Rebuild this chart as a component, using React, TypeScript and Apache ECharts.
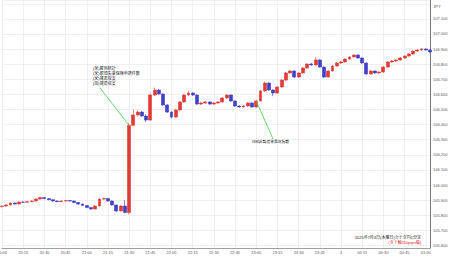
import React, { useEffect, useRef } from "react";
import * as echarts from "echarts";

// 3-minute candles, CAD/JPY, 2025-07-03 20:00 -> 2025-07-04 01:03 (JST)
const opens = [
  105.857, 105.861, 105.868, 105.881, 105.874, 105.887, 105.886, 105.890, 105.894, 105.907,
  105.917, 105.910, 105.903, 105.894, 105.890, 105.894, 105.897, 105.894, 105.884, 105.874,
  105.864, 105.851, 105.841, 105.861, 105.907, 105.910, 105.894, 105.868, 105.828, 105.861,
  105.818, 106.395, 106.464, 106.483, 106.457, 106.430, 106.596, 106.629, 106.603, 106.530,
  106.483, 106.450, 106.497, 106.550, 106.596, 106.609, 106.596, 106.536, 106.543, 106.550,
  106.536, 106.543, 106.550, 106.576, 106.596, 106.556, 106.523, 106.517, 106.523, 106.543,
  106.517, 106.556, 106.623, 106.675, 106.629, 106.609, 106.649, 106.695, 106.742, 106.755,
  106.715, 106.742, 106.775, 106.801, 106.795, 106.828, 106.781, 106.715, 106.755, 106.788,
  106.808, 106.815, 106.834, 106.848, 106.861, 106.841, 106.808, 106.735, 106.755, 106.742,
  106.748, 106.781, 106.815, 106.821, 106.828, 106.841, 106.854, 106.868, 106.887, 106.894,
  106.901, 106.894,
];
const closes = [
  105.861, 105.868, 105.881, 105.874, 105.887, 105.886, 105.890, 105.894, 105.907, 105.917,
  105.910, 105.903, 105.894, 105.890, 105.894, 105.897, 105.894, 105.884, 105.874, 105.864,
  105.851, 105.841, 105.861, 105.907, 105.910, 105.894, 105.868, 105.828, 105.861, 105.818,
  106.395, 106.464, 106.483, 106.457, 106.430, 106.596, 106.629, 106.603, 106.530, 106.483,
  106.450, 106.497, 106.550, 106.596, 106.609, 106.596, 106.536, 106.543, 106.550, 106.536,
  106.543, 106.550, 106.576, 106.596, 106.556, 106.523, 106.517, 106.523, 106.543, 106.517,
  106.556, 106.623, 106.675, 106.629, 106.609, 106.649, 106.695, 106.742, 106.755, 106.715,
  106.742, 106.775, 106.801, 106.795, 106.828, 106.781, 106.715, 106.755, 106.788, 106.808,
  106.815, 106.834, 106.848, 106.861, 106.841, 106.808, 106.735, 106.755, 106.742, 106.748,
  106.781, 106.815, 106.821, 106.828, 106.841, 106.854, 106.868, 106.887, 106.894, 106.901,
  106.894, 106.881,
];
const lows = [
  105.852, 105.858, 105.865, 105.870, 105.872, 105.882, 105.883, 105.887, 105.892, 105.904,
  105.906, 105.899, 105.890, 105.886, 105.887, 105.891, 105.890, 105.880, 105.870, 105.860,
  105.847, 105.836, 105.838, 105.858, 105.903, 105.890, 105.864, 105.822, 105.825, 105.812,
  105.805, 106.430, 106.455, 106.450, 106.417, 106.425, 106.590, 106.598, 106.525, 106.478,
  106.440, 106.446, 106.492, 106.546, 106.590, 106.590, 106.530, 106.530, 106.538, 106.531,
  106.532, 106.539, 106.546, 106.572, 106.551, 106.518, 106.512, 106.513, 106.519, 106.512,
  106.513, 106.552, 106.618, 106.624, 106.588, 106.604, 106.645, 106.690, 106.737, 106.708,
  106.711, 106.738, 106.770, 106.790, 106.791, 106.776, 106.709, 106.711, 106.751, 106.784,
  106.803, 106.811, 106.830, 106.844, 106.836, 106.803, 106.730, 106.731, 106.737, 106.736,
  106.744, 106.777, 106.810, 106.816, 106.823, 106.836, 106.850, 106.863, 106.882, 106.889,
  106.889, 106.876,
];
const highs = [
  105.866, 105.873, 105.885, 105.886, 105.891, 105.892, 105.895, 105.899, 105.911, 105.922,
  105.921, 105.913, 105.906, 105.898, 105.898, 105.901, 105.900, 105.897, 105.887, 105.877,
  105.867, 105.855, 105.866, 105.912, 105.915, 105.913, 105.897, 105.871, 105.866, 105.902,
  106.410, 106.500, 106.495, 106.490, 106.468, 106.605, 106.645, 106.635, 106.608, 106.535,
  106.488, 106.502, 106.555, 106.601, 106.624, 106.614, 106.600, 106.550, 106.556, 106.555,
  106.549, 106.556, 106.581, 106.603, 106.600, 106.560, 106.528, 106.529, 106.549, 106.547,
  106.561, 106.630, 106.684, 106.680, 106.633, 106.654, 106.700, 106.748, 106.763, 106.759,
  106.747, 106.780, 106.806, 106.808, 106.848, 106.833, 106.785, 106.760, 106.793, 106.813,
  106.821, 106.839, 106.853, 106.866, 106.865, 106.845, 106.812, 106.760, 106.759, 106.753,
  106.786, 106.820, 106.827, 106.833, 106.846, 106.859, 106.873, 106.892, 106.900, 106.906,
  106.906, 106.898,
];

const startHour = 20;
const stepMinutes = 3;
const times = opens.map((_, i) => {
  const m = (startHour * 60 + i * stepMinutes) % 1440;
  const hh = String(Math.floor(m / 60)).padStart(2, "0");
  const mm = String(m % 60).padStart(2, "0");
  return `${hh}:${mm}`;
});

const yMin = 105.583;
const yMax = 107.225;

const eventNotes = ["(米)雇用統計", "(米)新規失業保険申請件数", "(米)貿易収支", "(加)貿易収支"];
const eventTime = "21:30";
const eventPrice = 106.395;
const ismNote = "ISM非製造業景況指数";
const ismTime = "23:00";
const ismPrice = 106.556;
const titleNote = "2025年7月3日(木曜日)カナダ円1分足";
const scaleNote = "(タテ軸150pips幅)";
const unitNote = "JPY";

const FONT = "'Liberation Sans', 'Noto Sans CJK JP', sans-serif";

export default function App() {
  const ref = useRef<HTMLDivElement>(null);
  useEffect(() => {
    if (!ref.current) return;
    const chart = echarts.init(ref.current, null, { renderer: "svg" });
    const data = opens.map((o, i) => [o, closes[i], lows[i], highs[i]]);
    chart.setOption({
      animation: false,
      backgroundColor: "#ffffff",
      grid: { left: 2, right: 20, top: 0, bottom: 10, containLabel: false, outerBoundsMode: "none" },
      xAxis: {
        type: "category",
        data: times,
        boundaryGap: false,
        axisLine: { show: true, lineStyle: { color: "#a0a0a0", width: 1 } },
        axisTick: { show: false },
        axisLabel: {
          interval: 4,
          fontSize: 4,
          color: "#555",
          margin: 2,
          fontFamily: FONT,
          formatter: (v: string) => (v === "00:00" ? "4" : v),
        },
        splitLine: { show: true, interval: 4, lineStyle: { color: "#ececec", width: 0.8 } },
      },
      yAxis: {
        type: "value",
        position: "right",
        min: yMin,
        max: yMax,
        splitNumber: 16,
        axisLine: { show: true, lineStyle: { color: "#777", width: 1 } },
        axisTick: { show: false },
        axisLabel: {
          fontSize: 4,
          color: "#555",
          margin: 3,
          fontFamily: FONT,
          showMinLabel: false,
          showMaxLabel: false,
          formatter: (v: number) => (v > 107.15 ? "" : v.toFixed(3)),
        },
        splitLine: { show: true, lineStyle: { color: "#ececec", width: 0.8 } },
      },
      series: [
        {
          type: "candlestick",
          data,
          barWidth: 3.4,
          itemStyle: {
            color: "#e23b36",
            color0: "#4040c8",
            borderColor: "#e23b36",
            borderColor0: "#4040c8",
            borderWidth: 0.6,
          },
        },
      ],
    });

    const p1 = chart.convertToPixel({ gridIndex: 0 }, [eventTime, eventPrice]) as number[];
    const p2 = chart.convertToPixel({ gridIndex: 0 }, [ismTime, ismPrice]) as number[];

    chart.setOption({
      graphic: [
        {
          type: "text",
          x: 93,
          y: 66.5,
          z: 100,
          style: {
            text: eventNotes.join("\n"),
            fontSize: 4,
            lineHeight: 4.9,
            fill: "#222",
            fontFamily: FONT,
          },
        },
        {
          type: "line",
          z: 90,
          shape: { x1: 100, y1: 88, x2: p1[0], y2: p1[1] },
          style: { stroke: "#3fcf3f", lineWidth: 0.8 },
        },
        {
          type: "line",
          z: 90,
          shape: { x1: p2[0], y1: p2[1], x2: 273, y2: 139 },
          style: { stroke: "#3fcf3f", lineWidth: 0.8 },
        },
        {
          type: "text",
          x: 252,
          y: 140,
          z: 100,
          style: { text: ismNote, fontSize: 3.8, fill: "#222", fontFamily: FONT },
        },
        {
          type: "text",
          x: 421,
          y: 237.3,
          z: 100,
          style: {
            text: titleNote,
            fontSize: 4,
            fill: "#222",
            fontFamily: FONT,
            align: "right",
            verticalAlign: "middle",
          },
        },
        {
          type: "text",
          x: 421,
          y: 242.8,
          z: 100,
          style: {
            text: scaleNote,
            fontSize: 4,
            fill: "#e02020",
            fontFamily: FONT,
            align: "right",
            verticalAlign: "middle",
          },
        },
        {
          type: "text",
          x: 437,
          y: 6,
          z: 100,
          style: {
            text: unitNote,
            fontSize: 4,
            fill: "#555",
            fontFamily: FONT,
            align: "center",
            verticalAlign: "middle",
          },
        },
      ],
    });

    return () => chart.dispose();
  }, []);
  return <div ref={ref} style={{ position: "absolute", left: 0, top: 0, width: 450, height: 258 }} />;
}
